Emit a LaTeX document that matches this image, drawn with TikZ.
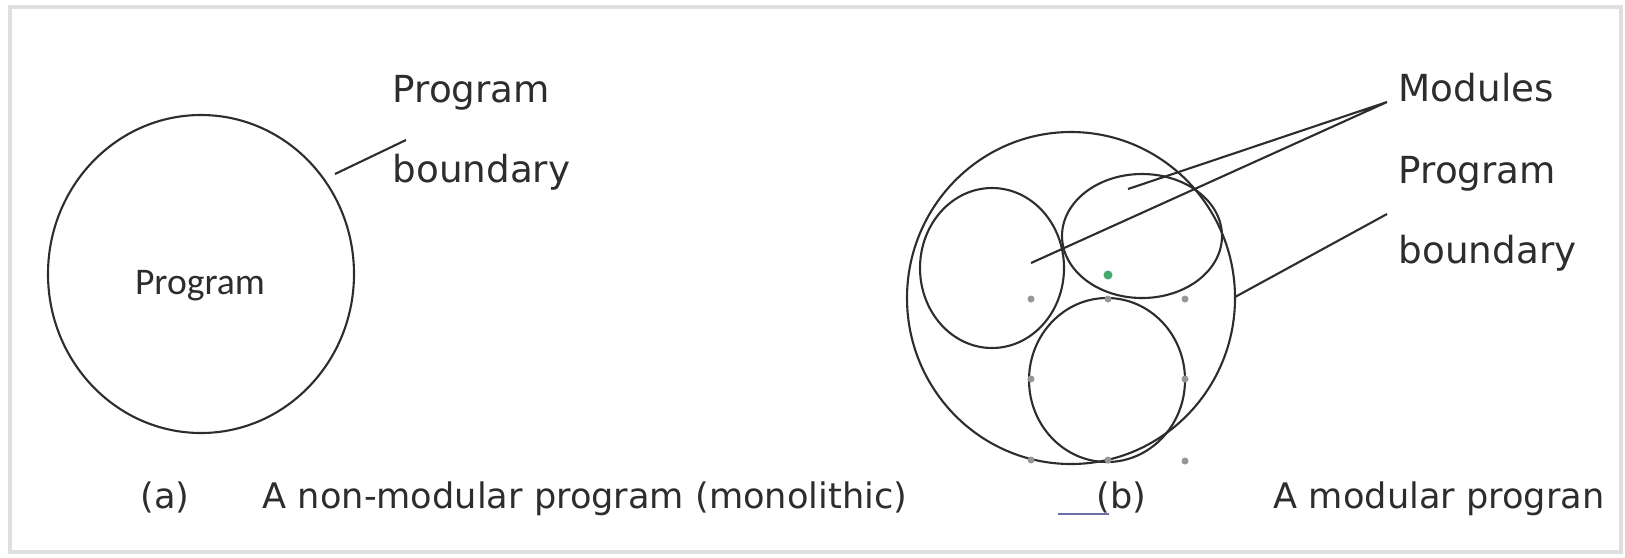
\documentclass[tikz,border=0pt]{standalone}
\usepackage{fontspec}
\setmainfont{DejaVu Sans}
\newfontfamily\calibrifont{Carlito}
\usetikzlibrary{positioning,calc}
\definecolor{inkgray}{RGB}{45,45,45}
\definecolor{handlegray}{RGB}{150,150,150}
\definecolor{handlegreen}{RGB}{70,170,110}
\definecolor{linkblue}{RGB}{110,110,170}

\tikzset{
  lbl/.style={anchor=base west, inner sep=0pt, font=\fontsize{10.6}{12}\selectfont, text=inkgray},
  captxt/.style={anchor=base west, inner sep=0pt, font=\fontsize{10}{12}\selectfont, text=inkgray},
  outline/.style={draw=inkgray, line width=0.6pt},
  leader/.style={draw=inkgray, line width=0.6pt},
  handle/.style={fill=handlegray, draw=none}
}

\begin{document}
\begin{tikzpicture}[x=0.01cm, y=-0.01cm]
    \useasboundingbox (0,0) rectangle (1625,557);
    \draw[gray!25, line width=1pt] (10,7) rectangle (1621,552);

    % (a) monolithic program
    \draw[outline] (201,274) ellipse [x radius=153, y radius=159];
    \node[font=\calibrifont\fontsize{10.7}{12}\selectfont, text=inkgray] (prog) at (200,286) {Program};
    \node[lbl] (bndAtop) at (392,102) {Program};
    \node[lbl] (bndAbot) at (392,182) {boundary};
    \coordinate (bndAin) at (335,174);
    \coordinate (bndAout) at (406,140);
    \draw[leader] (bndAin) -- (bndAout);

    % (b) modular program
    \draw[outline] (1071,298) ellipse [x radius=164, y radius=166];
    \draw[outline] (992,268) ellipse [x radius=72, y radius=80];
    \draw[outline] (1142,236) ellipse [x radius=80, y radius=62];
    \draw[outline] (1107,380) ellipse [x radius=78, y radius=82];

    % selection handles of the lower module
    \foreach \hx/\hy in {1031/299, 1108/299, 1185/299, 1031/379, 1185/379,
                         1031/460, 1108/460, 1185/461}
      \fill[handle] (\hx,\hy) circle [radius=3.5];
    \fill[handlegreen] (1108,275) circle [radius=4.5];

    \node[lbl] (modlbl) at (1398,101) {Modules};
    \node[lbl] (bndBtop) at (1398,183) {Program};
    \node[lbl] (bndBbot) at (1398,263) {boundary};
    \coordinate (modtip) at (1387,102);
    \coordinate (modA) at (1031,263);
    \coordinate (modB) at (1128,189);
    \coordinate (bndBout) at (1387,214);
    \coordinate (bndBin) at (1235,297);
    \draw[leader] (modA) -- (modtip) -- (modB);
    \draw[leader] (bndBin) -- (bndBout);

    % captions
    \node[captxt] (capa) at (140,508) {(a)};
    \node[captxt] (capatext) at (262,508) {A non-modular program (monolithic)};
    \node[captxt] (capb) at (1096,508) {(b)};
    \node[captxt] (capbtext) at (1273,508) {A modular progran};
    \coordinate (ulstart) at (1058,514);
    \coordinate (ulend) at (1109,514);
    \draw[linkblue, line width=0.7pt] (ulstart) -- (ulend);
  \end{tikzpicture}
\end{document}
